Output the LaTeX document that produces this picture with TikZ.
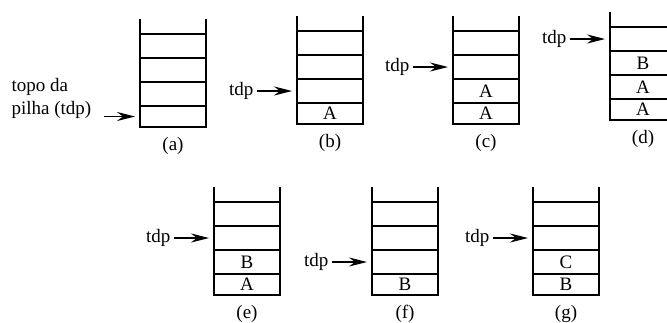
\documentclass[tikz,border=0pt]{standalone}
\usepackage{fontspec}
\setmainfont{Liberation Serif}
\usetikzlibrary{arrows.meta}
\tikzset{
  pilha/.style={line width=1.1pt},
  ptr/.style={line width=1.1pt,-{Stealth[length=18pt,width=9pt,inset=6pt]}},
  txt/.style={font=\fontsize{19}{23}\selectfont},
  cel/.style={inner sep=0pt,font=\fontsize{19}{23}\selectfont},
}
\begin{document}
\begin{tikzpicture}[x=1pt,y=-1pt]
    \useasboundingbox (0,0) rectangle (667,322);
    \clip (0,0) rectangle (667,322);
    % the seven stacks: name/left edge/bottom
    \foreach \nm/\x/\y in {a/140/127,b/297/124,c/453/124,d/610/120,
                           e/214/295,f/372/295,g/533/295}{
      \draw[pilha] (\x,\y-108) -- (\x,\y) -- (\x+66,\y) -- (\x+66,\y-108);
      \foreach \h in {21,45,69,93}
        \draw[pilha] (\x,\y-\h) -- (\x+66,\y-\h);
      \node[txt] (lbl\nm) at (\x+33,\y+19) {(\nm)};
    }
    % contents
    \node[cel] (b1) at (330,113.5) {A};
    \node[cel] (c1) at (486,113.5) {A};
    \node[cel] (c2) at (486,91) {A};
    \node[cel] (d1) at (643,109.5) {A};
    \node[cel] (d2) at (643,87) {A};
    \node[cel] (d3) at (643,63) {B};
    \node[cel] (e1) at (247,284.5) {A};
    \node[cel] (e2) at (247,262) {B};
    \node[cel] (f1) at (405,284.5) {B};
    \node[cel] (g1) at (566,284.5) {B};
    \node[cel] (g2) at (566,262) {C};
    % top of stack pointers
    \node[txt,anchor=west,align=left] (tdpa) at (8,98.5) {topo da\\pilha (tdp)};
    \coordinate (ina) at (135,116.5);
    \draw[ptr] (tdpa.east |- ina) ++(9,0) -- (ina);
    \node[txt,anchor=east] (tdpb) at (257,91) {tdp};
    \coordinate (inb) at (292,91);
    \draw[ptr] (tdpb) -- (inb);
    \node[txt,anchor=east] (tdpc) at (413,67) {tdp};
    \coordinate (inc) at (448,67);
    \draw[ptr] (tdpc) -- (inc);
    \node[txt,anchor=east] (tdpd) at (570,39) {tdp};
    \coordinate (ind) at (605,39);
    \draw[ptr] (tdpd) -- (ind);
    \node[txt,anchor=east] (tdpe) at (174,238) {tdp};
    \coordinate (ine) at (209,238);
    \draw[ptr] (tdpe) -- (ine);
    \node[txt,anchor=east] (tdpf) at (332,262) {tdp};
    \coordinate (inf) at (367,262);
    \draw[ptr] (tdpf) -- (inf);
    \node[txt,anchor=east] (tdpg) at (493,238) {tdp};
    \coordinate (ing) at (528,238);
    \draw[ptr] (tdpg) -- (ing);
\end{tikzpicture}
\end{document}
